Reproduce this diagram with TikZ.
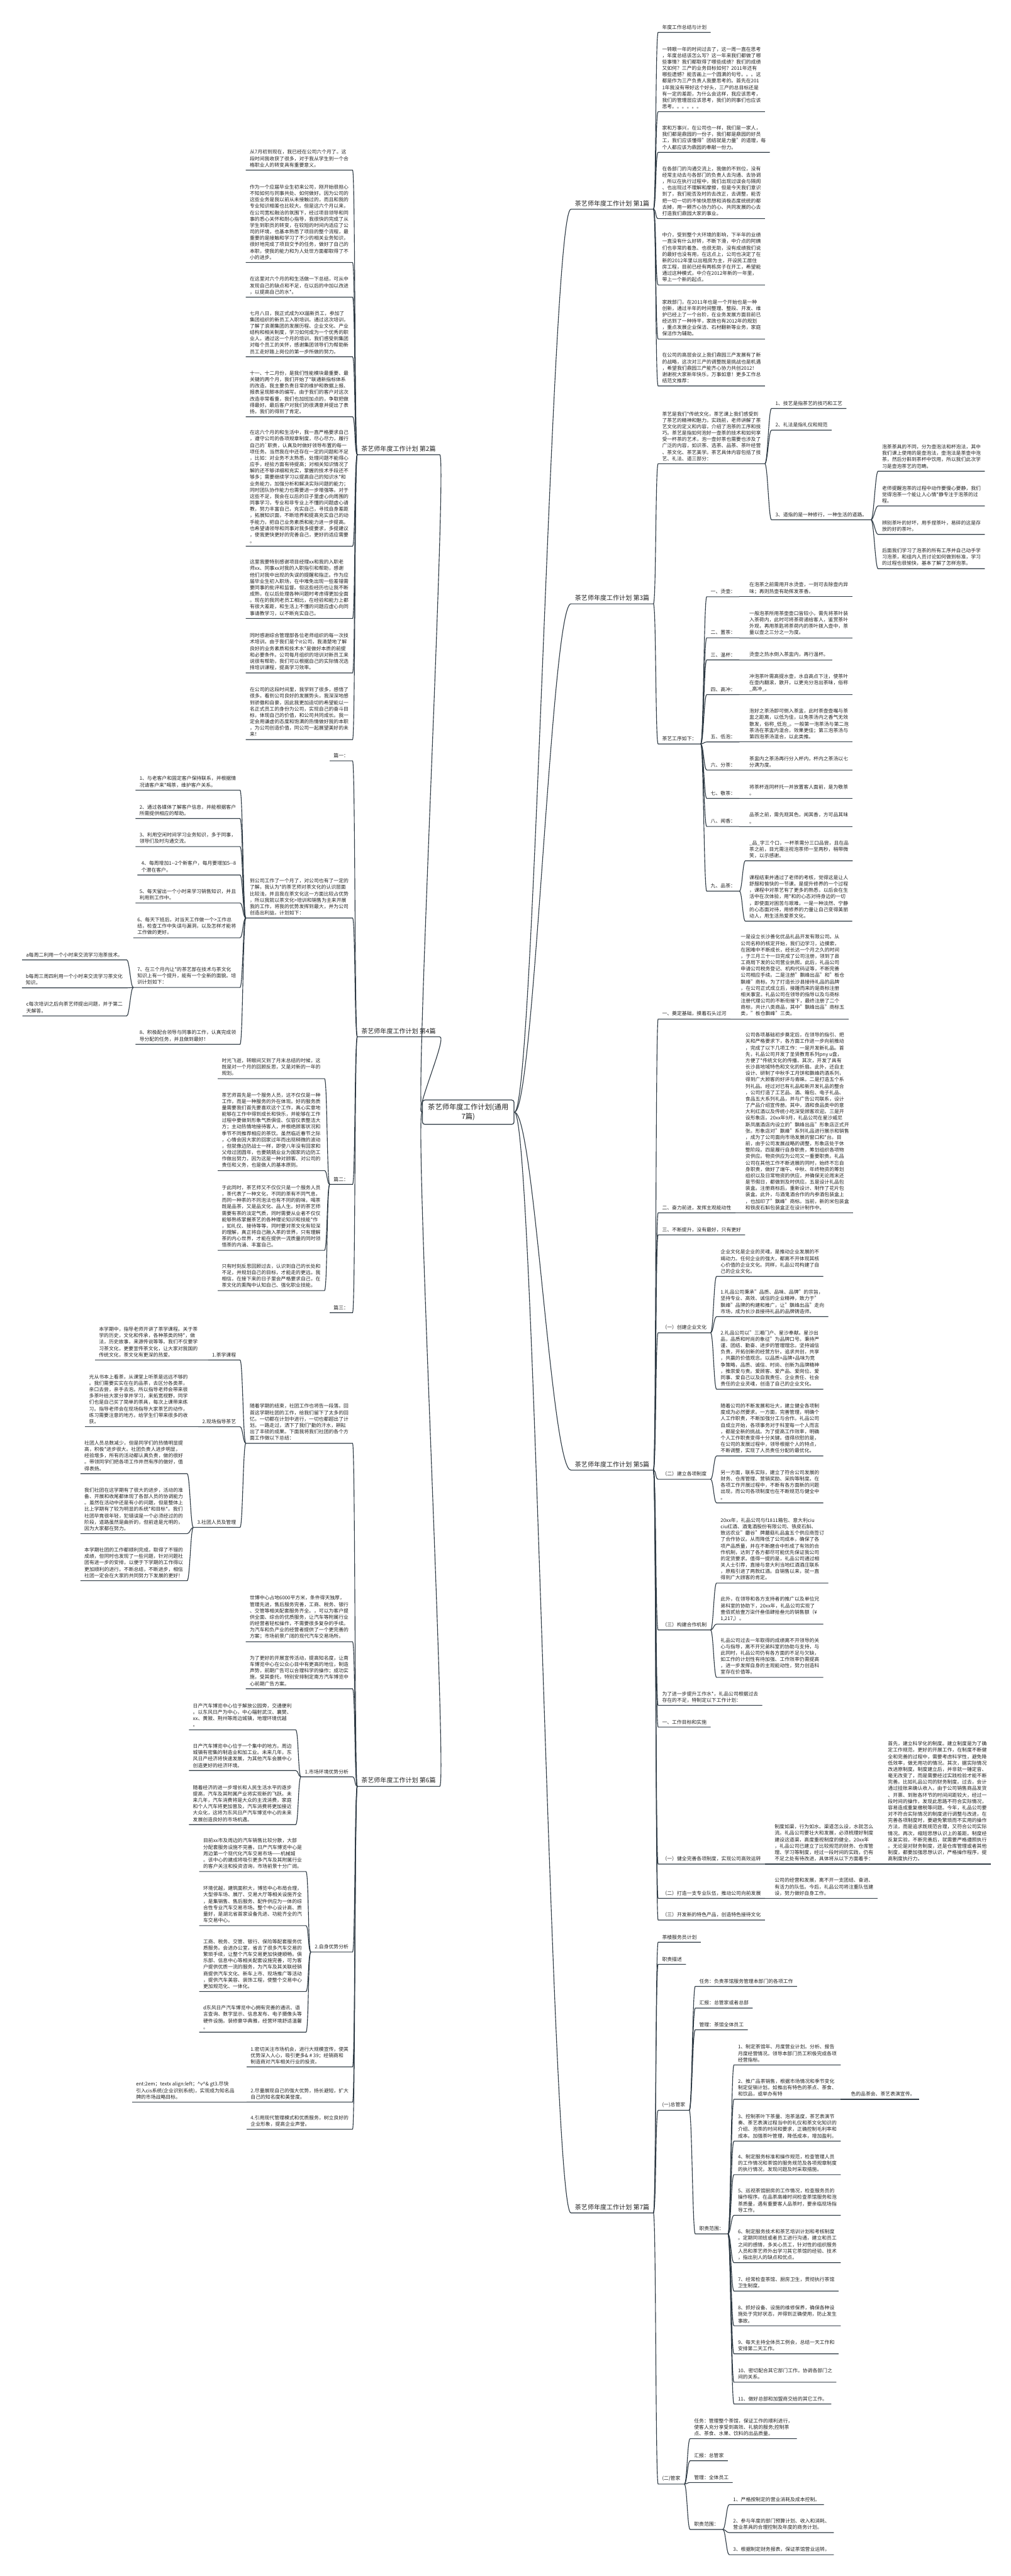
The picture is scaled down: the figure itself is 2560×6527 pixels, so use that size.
\documentclass[tikz,border=0pt]{standalone}
\usepackage{fontspec}
\setmainfont{Noto Sans CJK SC}
\definecolor{linecol}{HTML}{2E3A44}
\definecolor{txtcol}{HTML}{222222}
\tikzset{
  leaf/.style={anchor=south west, align=left, inner xsep=10pt, inner ysep=7pt,
    text=txtcol, font=\fontsize{12.5}{16.2}\selectfont},
  leafl/.style={leaf, anchor=south east},
  branch/.style={leaf, font=\fontsize{16}{20}\selectfont},
  root/.style={draw=linecol, line width=2pt, rounded corners=6pt, align=center,
    inner xsep=14pt, inner ysep=10pt, text=txtcol, font=\fontsize{18}{23}\selectfont},
  link/.style={draw=linecol, line width=1.8pt},
}
% right and left connectors, the child's underline included
\newcommand\rlink[2]{\draw[link] (#1.south east) .. controls +(7,0) and +(-7,0) .. (#2.south west) -- (#2.south east);}
\newcommand\llink[2]{\draw[link] (#1.south west) .. controls +(-7,0) and +(7,0) .. (#2.south east) -- (#2.south west);}
\begin{document}
\begin{tikzpicture}[x=1pt,y=-1pt]
\fill[white] (0,0) rectangle (2560,6527);
\node[root] (root) at (1186,2818) {茶艺师年度工作计划(通用\\7篇)};

\node[branch,anchor=south east] (p1) at (1655,530) {茶艺师年度工作计划 第1篇};
\node[branch,anchor=south east] (p3) at (1655,1530) {茶艺师年度工作计划 第3篇};
\node[branch,anchor=south east] (p5) at (1655,3725) {茶艺师年度工作计划 第5篇};
\node[branch,anchor=south east] (p7) at (1655,5607) {茶艺师年度工作计划 第7篇};
\node[branch] (p2) at (905,1152) {茶艺师年度工作计划 第2篇};
\node[branch] (p4) at (905,2627) {茶艺师年度工作计划 第4篇};
\node[branch] (p6) at (905,4526) {茶艺师年度工作计划 第6篇};
\foreach \x in {p1,p3,p5,p7}
  \draw[link] (root.east) .. controls +(50,0) and +(-50,0) .. (\x.south west) -- (\x.south east);
\foreach \x in {p2,p4,p6}
  \draw[link] (root.west) .. controls +(-20,0) and +(20,0) .. (\x.south east) -- (\x.south west);

% 第1篇
\node[leaf] (a0) at (1667,82) {年度工作总结与计划};
\node[leaf] (a1) at (1667,283) {一转眼一年的时间过去了，这一周一直在思考\\，年度总结该怎么写？这一年来我们都做了哪\\些事情？我们都取得了哪些成绩？我们的成绩\\又如何？三产的业务目标如何？2011年还有\\哪些遗憾？能否画上一个圆满的句号。。。这\\都是作为三产负责人我要思考的。首先在201\\1年我没有带好这个好头，三产的总目标还是\\有一定的差距，为什么会这样，我应该思考，\\我们的管理层应该思考，我们的同事们也应该\\思考。。。。。。};
\node[leaf] (a2) at (1667,386) {家和万事兴，在公司也一样，我们是一家人，\\我们都是鼎园的一份子，我们都是鼎园的好员\\工，我们应该懂得"团结就是力量"的道理，每\\个人都应该为鼎园的奉献一份力。};
\node[leaf] (a3) at (1667,554) {在各部门的沟通交流上，我做的不到位，没有\\经常主动去与各部门的负责人去沟通、去协调\\，所以在执行过程中，我们出现过误会与隔阂\\、也出现过不理解和摩擦，但是今天我们意识\\到了，我们能否及时的去改正，去调整，能否\\把一切一切的不愉快思想和消极态度统统的都\\去掉，用一颗齐心协力的心、共同发展的心去\\打造我们鼎园大家的事业。};
\node[leaf] (a4) at (1667,722) {中介，受到整个大环境的影响，下半年的业绩\\一直没有什么好转，不断下滑，中介点的阿姨\\们也非常的着急、也很无助，没有成绩我们说\\的最好也没有用，在这点上，公司也决定了在\\新的2012年里以出租房为主，开设民工居住\\房工程，目前已经有两栋房子在开工，希望能\\通过这种模式，中介在2012年新的一年里，\\带上一个新的起点。};
\node[leaf] (a5) at (1667,859) {家政部门，在2011年也是一个开始也是一种\\创新，通过半年的时间整理、整段、开发、维\\护已经上了一个台阶，在业务发展方面目前已\\经达到了一种持平，家政也有2012年的规划\\，重点发展企业保洁、石材翻新等业务，家庭\\保洁作为辅助。};
\node[leaf] (a6) at (1667,978) {在公司的高层会议上我们鼎园三产发展有了新\\的战略，这次对三产的调整既是挑战也是机遇\\，希望我们鼎园三产能齐心协力共创2012！\\谢谢祝大家新年快乐，万事如意！更多工作总\\结范文推荐：};
\foreach \x in {a0,a1,a2,a3,a4,a5,a6} {\rlink{p1}{\x}}

% 第3篇
\node[leaf] (b1) at (1667,1175) {茶艺是我们*传统文化，茶艺课上我们感受到\\了茶艺的精神和魅力。实践前，老师讲解了茶\\艺文化的定义和内容，介绍了泡茶的工序和技\\巧。茶艺是指如何泡好一壶茶的技术和如何享\\受一杯茶的艺术，泡一壶好茶也需要也涉及了\\广泛的内容，如识茶、选茶、品茶、茶叶经营\\、茶文化、茶艺美学。茶艺具体内容包括了技\\艺、礼法、道三部分：};
\node[leaf] (b11) at (1954,1035) {1、技艺是指茶艺的技巧和工艺};
\node[leaf] (b12) at (1954,1090) {2、礼法是指礼仪和规范};
\node[leaf] (b13) at (1954,1317) {3、道指的是一种修行，一种生活的道路。};
\node[leaf] (b131) at (2224,1194) {泡茶茶具的不同，分为壶泡法和杯泡法，其中\\我们课上使用的是壶泡法，壶泡法是茶壶中泡\\茶，然后分斟到茶杯中饮用，所以我们此次学\\习是壶泡茶艺的范畴。};
\node[leaf] (b132) at (2224,1282) {老师提醒泡茶的过程中动作要慢心要静，我们\\觉得泡茶一个能让人心情*静专注于泡茶的过\\程。};
\node[leaf] (b133) at (2224,1354) {辨别茶叶的好坏，用手捏茶叶，易碎的这是存\\放的好的茶叶。};
\node[leaf] (b134) at (2224,1441) {后面我们学习了泡茶的所有工序并自己动手学\\习泡茶，和组内人员讨论如何做到标准，学习\\的过程也很愉快，基本了解了怎样泡茶。};
\node[leaf] (b2) at (1667,1885) {茶艺工序如下：};
\node[leaf] (b21) at (1790,1512) {一、烫壶：};
\node[leaf] (b22) at (1790,1616) {二、置茶：};
\node[leaf] (b23) at (1790,1672) {三、温杯：};
\node[leaf] (b24) at (1790,1760) {四、高冲：};
\node[leaf] (b25) at (1790,1880) {五、低泡：};
\node[leaf] (b26) at (1790,1951) {六、分茶：};
\node[leaf] (b27) at (1790,2023) {七、敬茶：};
\node[leaf] (b28) at (1790,2094) {八、闻香：};
\node[leaf] (b29) at (1790,2258) {九、品茶：};
\node[leaf] (b21t) at (1888,1512) {在泡茶之前需用开水烫壶，一则可去除壶内异\\味；再则热壶有助挥发茶香。};
\node[leaf] (b22t) at (1888,1616) {一般泡茶所用茶壶壶口皆较小，需先将茶叶装\\入茶荷内，此时可将茶荷递给客人，鉴赏茶叶\\外观，再用茶匙将茶荷内的茶叶拨入壶中，茶\\量以壶之三分之一为度。};
\node[leaf] (b23t) at (1888,1672) {烫壶之热水倒入茶盅内，再行温杯。};
\node[leaf] (b24t) at (1888,1760) {冲泡茶叶需高提水壶，水自高点下注，使茶叶\\在壶内翻滚，散开，以更充分泡出茶味，俗称\\\_高冲\_。};
\node[leaf] (b25t) at (1888,1880) {泡好之茶汤即可倒入茶盅，此时茶壶壶嘴与茶\\盅之距离，以低为佳，以免茶汤内之香气无效\\散发，俗称\_低泡\_。一般第一泡茶汤与第二泡\\茶汤在茶盅内混合，效果更佳；第三泡茶汤与\\第四泡茶汤混合，以此类推。};
\node[leaf] (b26t) at (1888,1951) {茶盅内之茶汤再行分入杯内，杯内之茶汤以七\\分满为度。};
\node[leaf] (b27t) at (1888,2023) {将茶杯连同杯托一并放置客人面前，是为敬茶\\。};
\node[leaf] (b28t) at (1888,2094) {品茶之前，需先观其色，闻其香，方可品其味\\。};
\node[leaf] (b29a) at (1888,2181) {\_品\_字三个口，一杯茶需分三口品尝，且在品\\茶之前，目光需注视泡茶师一至两秒，稍带微\\笑，以示感谢。};
\node[leaf] (b29b) at (1888,2334) {课程结束并通过了老师的考核，觉得这是让人\\舒服和愉快的一节课。是提升修养的一个过程\\，课程中对茶艺有了更多的熟悉，以后会在生\\活中在次体验，用*和的心态对待身边的一切\\，即使面对困苦与艰难，一是一种淡然、宁静\\的心态面对待，用修养的力量让自己变得美丽\\动人，用生活热爱茶文化。};
\foreach \x in {b1,b2} {\rlink{p3}{\x}}
\foreach \x in {b11,b12,b13} {\rlink{b1}{\x}}
\foreach \x in {b131,b132,b133,b134} {\rlink{b13}{\x}}
\foreach \x in {b21,b22,b23,b24,b25,b26,b27,b28,b29} {\rlink{b2}{\x}}
\foreach \x in {b21,b22,b23,b24,b25,b26,b27,b28} {\rlink{\x}{\x t}}
\foreach \x in {b29a,b29b} {\rlink{b29}{\x}}

% 第5篇
\node[leaf] (c1) at (1667,2582) {一、奠定基础，摸着石头过河};
\node[leaf] (c1t) at (1866,2582) {一是设立长沙善化优品礼品开发有限公司。从\\公司名称的核定开始，我们边学习，边摸索，\\在困难中不断成长，经长达一个月之久的时间\\，于三月三十一日完成了公司注册，领到了县\\工商局下发的公司营业执照。此后，礼品公司\\申请公司税务登记、机构代码证等，不断完善\\公司相应手续。二是注册"飘峰出品"和"板仓\\飘峰"商标。为了打造长沙县接待礼品的品牌\\，在公司正式成立后，接踵而来的是商标注册\\相关事宜。礼品公司在领导的指导以及与商标\\注册代理公司的不断衔接下，最终注册了二个\\商标，共计八类商品，其中"飘峰出品"商标五\\类，"板仓飘峰"三类。};
\node[leaf] (c2) at (1667,3073) {二、奋力前进，发挥主观能动性};
\node[leaf] (c2t) at (1878,3073) {公司各项基础初步奠定后，在领导的指引、把\\关和严格要求下，各方面工作进一步向前推动\\，完成了以下几项工作：一是开发新礼品。首\\先，礼品公司开发了圣贤教育系列pny u盘，\\方便了*传统文化的传播。其次，开发了具有\\长沙县地域特色和文化的折扇。此外，还自主\\设计、研制了中秋手工月饼和飘峰药酒系列，\\得到广大顾客的好评与青睐。二是打造五个系\\列礼品。经过对已有礼品和新开发礼品的整合\\，公司打造了工艺品、酒、箱包、电子礼品、\\食品五大系列礼品，并与广告公司联系，设计\\了产品介绍宣传册。其中，酒和食品类中的意\\大利红酒以及传统小吃深受顾客欢迎。三是开\\设形象店。20xx年9月，礼品公司在星沙威尼\\斯凤凰酒店内设立的"飘峰出品"形象店正式开\\张。形象店对"飘峰"系列礼品进行展示和销售\\，成为了公司面向市场发展的窗口和*台。目\\前，由于公司发展战略的调整，形象店处于休\\整阶段。四是履行自身职责，筹划组织各项物\\资供应。物资供应为公司又一重要职责。礼品\\公司在其他工作不断进展的同时，始终不忘自\\身职责，做好了端午、中秋、年终物资的筹划\\组织以及日常物资的供应，并确保无论周末还\\是节假日，都做到及时供应。五是设计礼品包\\装盒。注册商标后，重新设计、制作了花片包\\装盒。此外，与酒鬼酒合作的内参酒包装盒上\\，也加印了"飘峰"商标。当前，新的米包装盒\\和铁皮石斛包装盒正在设计制作中。};
\node[leaf] (c3) at (1667,3129) {三、不断提升，没有最好，只有更好};
\node[leaf] (c4) at (1667,3377) {（一）创建企业文化};
\node[leaf] (c41) at (1815,3234) {企业文化是企业的灵魂，是推动企业发展的不\\竭动力。任何企业的强大，都离不开体现其核\\心价值的企业文化。同样，礼品公司构建了自\\己的企业文化。};
\node[leaf] (c42) at (1815,3336) {1.礼品公司秉承"品质、品味、品牌"的宗旨，\\坚持专业、高效、诚信的企业精神，致力于"\\飘峰"品牌的构建和推广，让"飘峰出品"走向\\市场，成为长沙县接待礼品的品牌铸造师。};
\node[leaf] (c43) at (1815,3520) {2.礼品公司以"三湘门户、星沙奉献。星沙出\\品，品质和时尚的象征"为品牌口号。秉持严\\谨、团结、勤奋、进步的管理理念。坚持诚信\\负责，开拓创新的经营方针。追求共创，共享\\，共赢的价值观念。以品质+品牌+品味为竞\\争策略，品质、诚信、时尚、创新为品牌精神\\，推崇爱与责。爱顾客、爱产品、爱岗位、爱\\同事、爱自己以及自我责任、企业责任、社会\\责任的企业灵魂，创造了自己的企业文化。};
\node[leaf] (c5) at (1667,3748) {（二）建立各项制度};
\node[leaf] (c51) at (1815,3689) {随着公司的不断发展和壮大，建立健全各项制\\度成为必然要求。一方面，完善管理，明确个\\人工作职责，不断加强分工与合作。礼品公司\\自成立开始，各项事务对于科室每一个人而言\\，都是全新的挑战。为了提高工作效率，明确\\个人工作职责变得十分关键。值得欣慰的是，\\在公司的发展过程中，领导根据个人的特点，\\不断调整，实现了人员责任分配的最优化。};
\node[leaf] (c52) at (1815,3808) {另一方面，联系实际，建立了符合公司发展的\\财务、仓库管理、营销奖励、采购等制度。在\\各项工作开展过程中，不断有各方面新的问题\\出现，而公司各项制度也在不断规范与健全中\\。};
\node[leaf] (c6) at (1667,4130) {（三）构建合作机制};
\node[leaf] (c61) at (1815,4011) {20xx年，礼品公司与f1811箱包、意大利ciu\\ciu红酒、酒鬼酒股份有限公司、铁皮石斛、\\致远农业"蘑谷"牌蘑菇礼品盒五个供应商签订\\了合作协议。从而降低了公司成本，确保了各\\项产品质量，并在不断磨合中形成了有效的合\\作机制，达到了各方都尽可能优先保证我公司\\的定货要求。值得一提的是，礼品公司通过相\\关人士引荐，直接与意大利当地红酒酒庄联系\\，原瓶引进了两款红酒。自销售以来，就一直\\得到广大顾客的肯定。};
\node[leaf] (c62) at (1815,4115) {此外，在领导和各方支持者的推广以及单位兄\\弟科室的协助下，20xx年，礼品公司实现了\\壹佰贰拾壹万柒仟叁佰肆拾叁元的销售额（¥\\1,217,）。};
\node[leaf] (c63) at (1815,4250) {礼品公司过去一年取得的成绩离不开领导的关\\心与指导，离不开兄弟科室的协助与支持，与\\此同时，礼品公司仍有各方面的不足与欠缺，\\如工作的计划性有待加强、工作效率仍需提高\\，进一步发挥自身的主观能动性，努力创造科\\室存在价值等。};
\node[leaf] (c7) at (1667,4321) {为了进一步提升工作水*，礼品公司根据过去\\存在的不足，特制定以下工作计划：};
\node[leaf] (c8) at (1667,4376) {一、工作目标和实施};
\node[leaf] (c9) at (1667,4723) {（一）健全完善各项制度，实现公司高效运转};
\node[leaf] (c9t) at (1952,4723) {制度如渠，行为如水。渠道怎么设，水就怎么\\流。礼品公司要壮大和发展，必须梳理好制度\\建设这道渠，高度重视制度的健全。20xx年\\，礼品公司已建立了比较规范的财务、仓库管\\理、学习等制度，经过一段时间的实践，仍有\\不足之处有待改进，具体将从以下方面着手：};
\node[leaf] (c9tt) at (2239,4723) {首先，建立科学化的制度。建立制度是为了确\\定工作规范，更好的开展工作，在制度不断健\\全和完善的过程中，需要考虑科学性，避免降\\低效率，做无用功的情况。其次，据实际情况\\改进原制度。制度建立后，并非就一锤定音、\\毫无改变了，而是需要经过实践检验才能不断\\完善。比如礼品公司的财务制度。过去，会计\\通过挂账来确认收入，由于公司销售商品发货\\、开票、到账各环节的时间间距较大，经过一\\段时间的操作，发现此思路不符合实际情况，\\容易造成重复缴税等问题。今年，礼品公司要\\对不符合实际情况的制度进行调整与改进，在\\完善各项制度时，要避免繁琐而不实用的操作\\方法，而是追求既规范合理，又符合公司实际\\情况。再次，缩短思想认识上的差距。制度经\\反复实验，不断完善后，就需要严格遵照执行\\。无论是对财务制度，还是仓库管理或者其他\\制度，都要加强思想认识，严格操作程序，提\\高制度执行力。};
\node[leaf] (c10) at (1667,4810) {（二）打造一支专业队伍，推动公司向前发展};
\node[leaf] (c10t) at (1952,4810) {公司的经营和发展，离不开一支团结、奋进、\\有活力的队伍。今后，礼品公司将注重队伍建\\设，努力做好自身工作。};
\node[leaf] (c11) at (1667,4865) {（三）开发新的特色产品，创造特色接待文化};
\foreach \x in {c1,c2,c3,c4,c5,c6,c7,c8,c9,c10,c11} {\rlink{p5}{\x}}
\foreach \x in {c1,c2,c9,c10} {\rlink{\x}{\x t}}
\rlink{c9t}{c9tt}
\foreach \x in {c41,c42,c43} {\rlink{c4}{\x}}
\foreach \x in {c51,c52} {\rlink{c5}{\x}}
\foreach \x in {c61,c62,c63} {\rlink{c6}{\x}}

% 第7篇
\node[leaf] (d1) at (1667,4921) {茶楼服务员计划};
\node[leaf] (d2) at (1667,4977) {职责描述};
\node[leaf] (d3) at (1667,5347) {(一)总管家};
\node[leaf] (d31) at (1761,5033) {任务：负责茶馆服务管理本部门的各项工作};
\node[leaf] (d32) at (1761,5088) {汇报：总管家或者总部};
\node[leaf] (d33) at (1761,5143) {管理：茶馆全体员工};
\node[leaf] (d34) at (1761,5660) {职责范围：};
\node[leaf] (d341) at (1859,5232) {1、制定茶馆年、月度营业计划。分析、报告\\月度经营情况。领导本部门员工积极完成各项\\经营指标。};
\node[leaf] (d342) at (1859,5319) {2、推广品茶销售，根据市场情况和季节变化\\制定促销计划。如推出有特色的茶点、茶食、\\和饮品，或举办有特};
\node[leaf] (d342c) at (2145,5319) {色的品茶会、茶艺表演宣传。};
\node[leaf] (d343) at (1859,5425) {3、控制茶叶下茶量、泡茶温度，茶艺表演节\\奏、茶艺表演过程当中的礼仪和茶文化知识的\\介绍、泡茶的时间和要求，正确控制毛利率和\\成本。加强茶叶管理，降低成本，增加盈利。};
\node[leaf] (d344) at (1859,5510) {4、制定服务标准和操作规范，检查管理人员\\的工作情况和茶馆的服务规范及各项规章制度\\的执行情况，发现问题及时采取措施。};
\node[leaf] (d345) at (1859,5613) {5、巡视茶馆厨房的工作情况，检查服务员的\\操作程序。在品茶高峰时间检查茶馆服务和泡\\茶质量，遇有重要客人品茶时，要亲临现场指\\导工作。};
\node[leaf] (d346) at (1859,5733) {6、制定服务技术和茶艺培训计划和考核制度\\。定期同领班或者员工进行沟通，建立和员工\\之间的感情，多关心员工，针对性的组织服务\\人员和茶艺师外出学习其它茶馆的经验、技术\\，指出别人的缺点和优点。};
\node[leaf] (d347) at (1859,5805) {7、经常检查茶馆、厨房卫生，贯彻执行茶馆\\卫生制度。};
\node[leaf] (d348) at (1859,5893) {8、抓好设备、设施的维修保养，确保各种设\\施处于完好状态，并得到正确使用，防止发生\\事故。};
\node[leaf] (d349) at (1859,5964) {9、每天主持全体员工例会，总结一天工作和\\安排第二天工作。};
\node[leaf] (d3410) at (1859,6036) {10、密切配合其它部门工作。协调各部门之\\间的关系。};
\node[leaf] (d3411) at (1859,6091) {11、做好总部和加盟商交给的其它工作。};
\node[leaf] (d4) at (1667,6294) {(二)管家};
\node[leaf] (d41) at (1748,6179) {任务：管理整个茶馆，保证工作的顺利进行，\\使客人充分享受到高效、礼貌的服务;控制茶\\点、茶食、水果、饮料的出品质量。};
\node[leaf] (d42) at (1748,6235) {汇报：总管家};
\node[leaf] (d43) at (1748,6290) {管理：全体员工};
\node[leaf] (d44) at (1748,6409) {职责范围：};
\node[leaf] (d441) at (1847,6346) {1、严格按制定的营业消耗及成本控制。};
\node[leaf] (d442) at (1847,6417) {2、参与年度的部门预算计划、收入和消耗、\\营业茶具的合理控制及年度的商务计划。};
\node[leaf] (d443) at (1847,6473) {3、根据制定财务报表，保证茶馆营业运转。};
\foreach \x in {d1,d2,d3,d4} {\rlink{p7}{\x}}
\foreach \x in {d31,d32,d33,d34} {\rlink{d3}{\x}}
\foreach \x in {d341,d342,d343,d344,d345,d346,d347,d348,d349,d3410,d3411} {\rlink{d34}{\x}}
\rlink{d342}{d342c}
\foreach \x in {d41,d42,d43,d44} {\rlink{d4}{\x}}
\foreach \x in {d441,d442,d443} {\rlink{d44}{\x}}

% 第2篇
\node[leafl] (e1) at (893,431) {从7月初到现在，我已经在公司六个月了。这\\段时间我收获了很多，对于我从学生到一个合\\格职业人的转变具有重要意义。};
\node[leafl] (e2) at (893,665) {作为一个应届毕业生初来公司，刚开始很担心\\不知如何与同事共处、如何做好。因为公司的\\这些业务是我以前从未接触过的，而且和我的\\专业知识相差也比较大。但是这六个月以来，\\在公司宽松融洽的氛围下，经过项目领导和同\\事的悉心关怀和耐心指导，我很快的完成了从\\学生到职员的转变，在较短的时间内适应了公\\司的环境，也基本熟悉了项目的整个流程，最\\重要的是接触和学习了不少的相关业务知识，\\很好地完成了项目交予的任务，做好了自己的\\本职，使我的能力和为人处世方面都取得了不\\小的进步。};
\node[leafl] (e3) at (893,753) {在这里对六个月的和生活做一下总结，可从中\\发现自己的缺点和不足，在以后的中加以改进\\，以提高自己的水*。};
\node[leafl] (e4) at (893,904) {七月八日，我正式成为XX届新员工，参加了\\集团组织的新员工入职培训。通过这次培训，\\了解了浪潮集团的发展历程、企业文化、产业\\结构和相关制度，学习如何成为一个优秀的职\\业人。通过这一个月的培训，我们感受到集团\\对每个员工的关怀，感谢集团领导们为帮助新\\员工走好踏上岗位的第一步所做的努力。};
\node[leafl] (e5) at (893,1056) {十一、十二月份，是我们性能模块最重要、最\\关键的两个月，我们开始了*联通新指标体系\\的改造，我主要负责日常的维护和数据上报、\\报表呈现脚本的编写。由于我们的客户对这次\\改造非常看重，我们也加班加点的，争取把做\\得最好。最后客户对我们的很满意并提出了表\\扬，我们的得到了肯定。};
\node[leafl] (e6) at (893,1384) {在这六个月的和生活中，我一直严格要求自己\\，遵守公司的各项规章制度，尽心尽力，履行\\自己的\textasciigrave 职责，认真及时做好领导布置的每一\\项任务。当然我在中还存在一定的问题和不足\\，比如：对业务不太熟悉，处理问题不能得心\\应手，经验方面有待提高；对相关知识情况了\\解的还不够详细和充实，掌握的技术手段还不\\够多；需要继续学习以提高自己的知识水*和\\业务能力，加强分析和解决实际问题的能力；\\同时团队协作能力也需要进一步增强等。对于\\这些不足，我会在以后的日子里虚心向周围的\\同事学习，专业和非专业上不懂的问题虚心请\\教，努力丰富自己，充实自己，寻找自身差距\\，拓展知识面，不断培养和提高充实自己的动\\手能力，把自己业务素质和能力进一步提高。\\也希望请领导和同事对我多提要求，多提建议\\，使我更快更好的完善自己，更好的适应需要\\。};
\node[leafl] (e7) at (893,1567) {这里我要特别感谢项目经理xx和我的入职老\\师xx、同事xx对我的入职指引和帮助，感谢\\他们对我中出现的失误的提醒和指正。作为应\\届毕业生初入职场，在中难免出现一些差错需\\要同事的批评和监督。但这些经历也让我不断\\成熟，在以后处理各种问题时考虑得更加全面\\。现在的我同老员工相比，在经验和能力上都\\有很大差距，和生活上不懂的问题应虚心向同\\事请教学习，以不断充实自己。};
\node[leafl] (e8) at (893,1705) {同时感谢综合管理部各位老师组织的每一次技\\术培训。由于我们是个it公司，我清楚地了解\\良好的业务素质和技术水*是做好本质的前提\\和必要条件。公司每月组织的培训对新员工来\\说很有帮助，我们可以根据自己的实际情况选\\择培训课程，提高学习效率。};
\node[leafl] (e9) at (893,1874) {在公司的这段时间里，我学到了很多，感悟了\\很多。看到公司良好的发展势头，我深深地感\\到骄傲和自豪，因此我更加迫切的希望能以一\\名正式员工的身份为公司，实现自己的奋斗目\\标，体现自己的价值，和公司共同成长。我一\\定会用谦虚的态度和饱满的热情做好我的本职\\，为公司创造价值，同公司一起展望美好的未\\来！};
\foreach \x in {e1,e2,e3,e4,e5,e6,e7,e8,e9} {\llink{p2}{\x}}

% 第4篇
\node[leafl] (f1) at (893,1928) {篇一：};
\node[leafl] (f2) at (893,2326) {到公司工作了一个月了，对公司也有了一定的\\了解。我认为*的茶艺师对茶文化的认识层面\\比较浅，并且我在茶文化这一方面比较占优势\\，所以我就以茶文化>培训和销售为主来开展\\我的工作，将我的优势发挥到最大，并为公司\\创造出利益。计划如下：};
\node[leafl] (f21) at (608,2002) {1、与老客户和固定客户保持联系，并根据情\\况请客户来*喝茶，维护客户关系。};
\node[leafl] (f22) at (608,2074) {2、通过各媒体了解客户信息，并能根据客户\\所需提供相应的帮助。};
\node[leafl] (f23) at (608,2145) {3、利用空闲时间学习业务知识，多于同事，\\领导们及时沟通交流。};
\node[leafl] (f24) at (608,2217) {4、每周增加1-{}-2个新客户，每月要增加5-{}-8\\个潜在客户。};
\node[leafl] (f25) at (608,2288) {5、每天留出一个小时来学习销售知识，并且\\利用到工作中。};
\node[leafl] (f26) at (608,2376) {6、每天下班后，对当天工作做一个>工作总\\结，检查工作中失误与漏洞，以及怎样才能将\\工作做的更好。};
\node[leafl] (f27) at (608,2502) {7、在三个月内让*的茶艺部在技术与茶文化\\知识上有一个提升，能有一个全新的面貌。培\\训计划如下：};
\node[leafl] (f28) at (608,2646) {8、积极配合领导与同事的工作，认真完成领\\导分配的任务，并且做到最好！};
\node[leafl] (f27a) at (321,2432) {a每周二利用一个小时来交流学习泡茶技术。};
\node[leafl] (f27b) at (321,2503) {b每周三周四利用一个小时来交流学习茶文化\\知识。};
\node[leafl] (f27c) at (321,2574) {c每次培训之后向茶艺师提出问题，并于第二\\天解答。};
\node[leafl] (f3) at (893,3001) {篇二：};
\node[leafl] (f31) at (822,2733) {时光飞逝，转眼间又到了月末总结的时候，这\\既是对一个月的回顾反思，又是对新的一年的\\规划。};
\node[leafl] (f32) at (822,2966) {茶艺师首先是一个服务人员，这不仅仅是一种\\工作，而是一种服务的外在体现。好的服务质\\量需要我们首先要喜欢这个工作，真心实意地\\能够在工作中得到成长和快乐，并能够在工作\\过程中要做到形象气质俱佳、仪容仪表整洁大\\方；主动热情地接待客人，并根绝顾客状况和\\季节不同推荐相应的茶饮。虽然临近春节之际\\，心情会因大家的回家过年而出现稍微的波动\\，但就像边防战士一样，即使八年没有回家和\\父母过团圆年，也要兢兢业业为国家的边防工\\作做出努力，因为这是一种对顾客、对公司的\\责任和义务，也是做人的基本原则。};
\node[leafl] (f33) at (822,3168) {于此同时，茶艺师又不仅仅只是一个服务人员\\，茶代表了一种文化，不同的茶有不同气息，\\而同一种茶的不同泡法也有不同的韵味，喝茶\\既是品茶，又是品文化、品人生。好的茶艺师\\需要有茶的淡定气质，同时需要从业者不仅仅\\能够熟练掌握茶艺的各种理论知识和技能*作\\，如礼仪、接待等等，同时要对茶文化有较深\\的理解，真正将自己融入茶的世界，只有理解\\茶的内心世界，才能在提供一流质量的同时领\\悟茶的内涵、丰富自己。};
\node[leafl] (f34) at (822,3270) {只有时刻反思回顾过去，认识到自己的长处和\\不足，并规划自己的目标，才能走的更远。我\\相信，在接下来的日子里会严格要求自己，在\\茶文化的熏陶中认知自己、强化职业技能。};
\node[leafl] (f4) at (893,3326) {篇三：};
\foreach \x in {f1,f2,f3,f4} {\llink{p4}{\x}}
\foreach \x in {f21,f22,f23,f24,f25,f26,f27,f28} {\llink{f2}{\x}}
\foreach \x in {f27a,f27b,f27c} {\llink{f27}{\x}}
\foreach \x in {f31,f32,f33,f34} {\llink{f3}{\x}}

% 第6篇
\node[leafl] (g1) at (893,3657) {随着学期的结束，社团工作也将告一段落。回\\首这学期社团的工作，给我们留下了太多的回\\忆。一切都在计划中进行，一切也都超出了计\\划。一路走过，洒下了我们*勤的汗水，耕耘\\出了丰硕的成果。下面我将我们社团的各个方\\面工作做以下总结：};
\node[leafl] (g11) at (608,3446) {1.茶学课程};
\node[leafl] (g11t) at (511,3446) {本学期中，指导老师开讲了茶学课程。关于茶\\学的历史，文化和传承，各种茶类的特*，做\\法，历史故事，来源传说等等。我们不仅要学\\习茶文化，更要宣传茶文化，让大家对我国的\\传统文化，茶文化有更深的热爱。};
\node[leafl] (g12) at (608,3615) {2.现场指导茶艺};
\node[leafl] (g12t) at (486,3615) {光从书本上看茶，从课堂上听茶是远远不够的\\。我们需要实实在在的品茶，去区分各类茶，\\亲口去尝，亲手去泡。所以指导老师会带来很\\多茶叶给大家分享并学习，来拓宽视野。同学\\们也是自己买了简单的茶具，每次上课带来练\\习。指导老师会在现场指导大家茶艺的动作，\\练习需要注意的地方。给学生们带来很多的收\\获。};
\node[leafl] (g13) at (608,3870) {3.社团人员及管理};
\node[leafl] (g131) at (474,3734) {社团人员总数减少，但是同学们的热情明显提\\高，积极*进步很大。社团负责人进步明显，\\经验增多，所有的活动都认真负责，做的很好\\。带领同学们把各项工作井然有序的做好，值\\得表扬。};
\node[leafl] (g132) at (474,3886) {我们社团在这学期有了很大的进步，活动的准\\备、开展和收尾都体现了各部人员的协调能力\\。虽然在活动中还是有小的问题，但是整体上\\比上学期有了较为明显的系统*和目标*。我们\\社团毕竟很年轻，犯错误是一个必须经过的的\\阶段，道路虽然是曲折的，但前途是光明的，\\因为大家都在努力。};
\node[leafl] (g133) at (474,4005) {本学期社团的工作都顺利完成，取得了不错的\\成绩，但同时也发现了一些问题，针对问题社\\团有进一步的安排，以便于下学期的工作得以\\更加顺利的进行。不断总结，不断进步，相信\\社团一定会在大家的共同努力下发展的更好！};
\node[leafl] (g2) at (893,4160) {世博中心占地6000平方米，条件得天独厚，\\管理先进，售后服务完善，工商、税务、银行\\、交管等相关配套服务齐全。，可以为客户提\\供全面、综合的优质服务，让汽车等附属行业\\的经营者轻松操作，不需要很多复杂的手续。\\为汽车和负产业的经营者提供了一个更完善的\\方案；市场前景广阔的现代汽车交易场所。};
\node[leafl] (g3) at (893,4279) {为了更好的开展宣传活动，提高知名度，让南\\车博览中心在公众心目中有更高的地位，制造\\声势，前期广告可以合理科学的操作；成功实\\施，受其委托，特别安排制定南方汽车博览中\\心前期广告方案。};
\node[leafl] (g4) at (893,4502) {1.市场环境优势分析};
\node[leafl] (g41) at (749,4383) {日产汽车博览中心位于解放公园旁，交通便利\\。以东风日产为中心，中心辐射武汉、襄樊、\\xx、黄陂、荆州等周边城镇，地理环境优越\\。};
\node[leafl] (g42) at (749,4486) {日产汽车博览中心位于一个集中的地方。周边\\城镇有密集的制造业和加工业。未来几年，东\\风日产经济将快速发展，为其他汽车会展中心\\创造更好的经济环境。};
\node[leafl] (g43) at (749,4623) {随着经济的进一步增长和人民生活水平的逐步\\提高，汽车及其附属产业将实现新的飞跃。未\\来几年，汽车消费将是大众的主流消费，家庭\\和个人汽车将更加普及，汽车消费将更加接近\\大众化，这将为东风日产汽车博览中心的未来\\发展创造良好的市场机遇。};
\node[leafl] (g5) at (893,4946) {2.自身优势分析};
\node[leafl] (g51) at (775,4742) {目前xx市及周边的汽车销售比较分散，大部\\分配套服务设施不完善。日产汽车博览中心是\\周边第一个现代化汽车交易市场——机械城\\。该中心的建成将吸引更多汽车及其附属行业\\的客户关注和投资咨询，市场前景十分广阔。};
\node[leafl] (g52) at (775,4879) {环境优越，建筑面积大，博览中心布局合理，\\大型停车场、展厅、交易大厅等相关设施齐全\\，是集销售、售后服务、配件供应为一体的综\\合性专业汽车交易市场。整个中心设计高、质\\量好，是湖北省首家设备先进、功能齐全的汽\\车交易中心。};
\node[leafl] (g53) at (775,5046) {工商、税务、交管、银行、保险等配套服务优\\质服务。会进办公室，省去了很多汽车交易的\\繁琐手续，让整个汽车交易更加快捷顺畅。俱\\乐部、信息中心等相关配套设施完善，可为客\\户提供优质一流的服务，为汽车及其关联经销\\商提供汽车文化、新车上市、现场推广等活动\\，提供汽车美容、装饰工程，使整个交易中心\\更加规范化、一体化。};
\node[leafl] (g54) at (775,5149) {d东风日产汽车博览中心拥有完善的通讯、语\\言查询、数字显示、信息发布、电子摄像头等\\硬件设施。装修豪华典雅，经营环境舒适温馨\\。};
\node[leafl] (g6) at (893,5237) {1.密切关注市场机会，进行大规模宣传，使其\\优势深入人心，吸引更多\& \# 39；经销商和\\制造商对汽车相关行业的投资。};
\node[leafl] (g7) at (893,5326) {2.尽量展现自己的强大优势，扬长避短，扩大\\自己的知名度和美誉度。};
\node[leafl] (g7c) at (604,5326) {ent:2em；textx align:left；\textasciicircum v\textasciicircum\& gt3.尽快\\引入cis系统(企业识别系统)，实现成为知名品\\牌的市场战略目标。};
\node[leafl] (g8) at (893,5395) {4.引用现代管理模式和优质服务，树立良好的\\企业形象，提高企业声誉。};
\foreach \x in {g1,g2,g3,g4,g5,g6,g7,g8} {\llink{p6}{\x}}
\foreach \x in {g11,g12,g13} {\llink{g1}{\x}}
\foreach \x in {g11,g12} {\llink{\x}{\x t}}
\foreach \x in {g131,g132,g133} {\llink{g13}{\x}}
\foreach \x in {g41,g42,g43} {\llink{g4}{\x}}
\foreach \x in {g51,g52,g53,g54} {\llink{g5}{\x}}
\llink{g7}{g7c}
\end{tikzpicture}
\end{document}
